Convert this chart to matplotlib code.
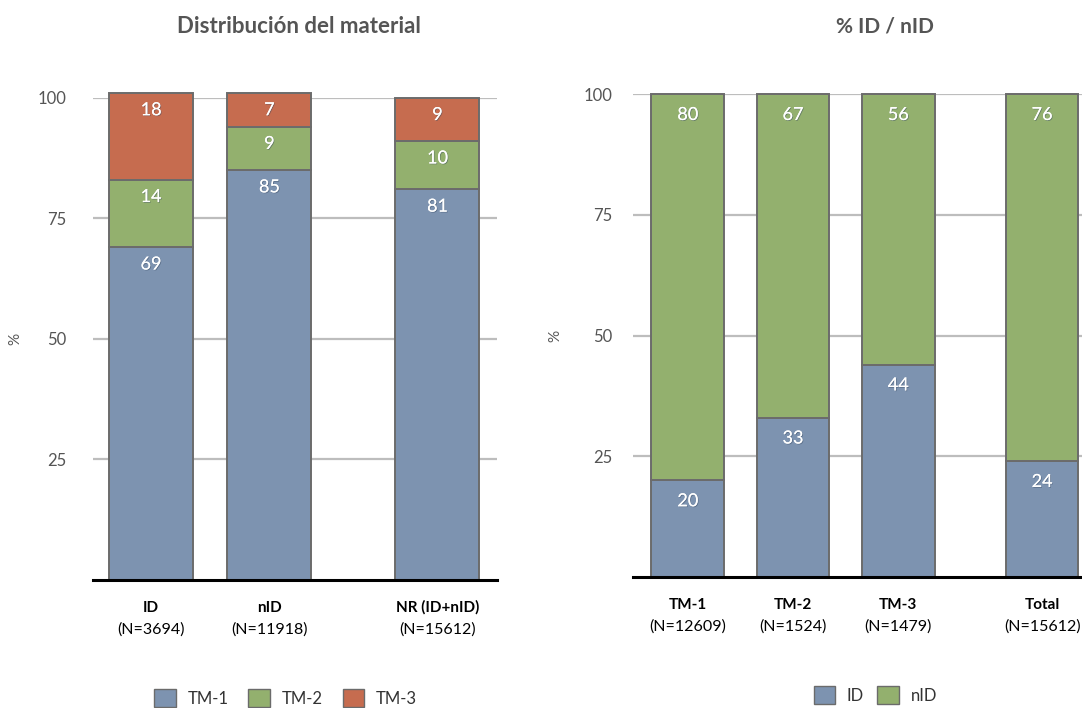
import matplotlib
matplotlib.use("Agg")
import matplotlib.pyplot as plt
import matplotlib.patheffects as pe
from matplotlib.patches import Patch

plt.rcParams['font.family'] = ['Lato', 'DejaVu Sans']

# left chart: material distribution by group (%)
groups = ["ID", "nID", "NR (ID+nID)"]
groups_n = ["(N=3694)", "(N=11918)", "(N=15612)"]
tm1 = [69, 85, 81]
tm2 = [14, 9, 10]
tm3 = [18, 7, 9]

# right chart: % ID / nID by TM type
types = ["TM-1", "TM-2", "TM-3", "Total"]
types_n = ["(N=12609)", "(N=1524)", "(N=1479)", "(N=15612)"]
pct_id = [20, 33, 44, 24]
pct_nid = [80, 67, 56, 76]

BLUE = "#7D93B0"
GREEN = "#93B06E"
RED = "#C66C4F"
EDGE = "#6B6B6B"
GREY_TXT = "#555555"

shadow = [pe.withSimplePatchShadow(offset=(0.6, -0.6), shadow_rgbFace="#34465e", alpha=0.45),
          pe.Normal()]


def style_axes(ax, xlim, pad):
    ax.set_ylim(0, 100)
    ax.set_xlim(*xlim)
    ax.set_yticks([25, 50, 75, 100])
    ax.yaxis.grid(True, color="#BDBDBD", linewidth=1.6)
    ax.set_axisbelow(True)
    for side in ("top", "right", "left"):
        ax.spines[side].set_visible(False)
    ax.spines["bottom"].set_color("black")
    ax.spines["bottom"].set_linewidth(2.2)
    ax.spines["bottom"].set_zorder(5)
    ax.tick_params(axis="y", length=0, pad=pad, labelsize=12, labelcolor=GREY_TXT)
    ax.set_xticks([])
    ax.set_ylabel("%", color=GREY_TXT, fontsize=11)


def stack(ax, x, values, bottoms, color, width, offset):
    bars = ax.bar(x, values, width, bottom=bottoms, color=color,
                  edgecolor=EDGE, linewidth=1.4, clip_on=False, zorder=3)
    for b, v in zip(bars, values):
        top = b.get_y() + b.get_height()
        t = ax.annotate(str(v), (b.get_x() + b.get_width() / 2, top),
                        xytext=(0, -offset), textcoords="offset points",
                        ha="center", va="center", color="white", fontsize=13,
                        zorder=6, annotation_clip=False)
        t.set_path_effects(shadow)


def category_labels(ax, x, names, counts):
    for xi, name, n in zip(x, names, counts):
        ax.annotate(name, (xi, 0), xytext=(0, -20), textcoords="offset points",
                    ha="center", va="center", fontweight="bold", fontsize=11, color="black")
        ax.annotate(n, (xi, 0), xytext=(0, -36), textcoords="offset points",
                    ha="center", va="center", fontsize=11.5, color="black")


fig = plt.figure(figsize=(10.82, 7.08), dpi=100)

# --- left chart ---
ax1 = fig.add_axes([0.086, 0.181, 0.373, 0.681])
x1 = [0, 1, 2.42]
w1 = 0.71
style_axes(ax1, (-0.49, 2.92), 19)
ax1.yaxis.set_label_coords(-0.175, 0.5)
stack(ax1, x1, tm1, [0, 0, 0], BLUE, w1, 12.5)
b2 = tm1
stack(ax1, x1, tm2, b2, GREEN, w1, 12.5)
b3 = [a + b for a, b in zip(tm1, tm2)]
stack(ax1, x1, tm3, b3, RED, w1, 12.5)
category_labels(ax1, x1, groups, groups_n)

fig.text(0.276, 0.962, "Distribución del material", ha="center", va="center",
         fontsize=16, fontweight="bold", color=GREY_TXT)
fig.legend(handles=[Patch(facecolor=BLUE, edgecolor=EDGE, label="TM-1"),
                    Patch(facecolor=GREEN, edgecolor=EDGE, label="TM-2"),
                    Patch(facecolor=RED, edgecolor=EDGE, label="TM-3")],
           loc="center", bbox_to_anchor=(0.264, 0.014), ncol=3, frameon=False,
           fontsize=12, handlelength=1.3, handleheight=1.3, columnspacing=1.2,
           handletextpad=0.7, labelcolor="#333333")

# --- right chart ---
ax2 = fig.add_axes([0.585, 0.185, 0.4224, 0.682])
x2 = [0, 1, 2, 3.365]
w2 = 0.69
style_axes(ax2, (-0.52, 3.82), 15)
ax2.yaxis.set_label_coords(-0.155, 0.5)
stack(ax2, x2, pct_id, [0, 0, 0, 0], BLUE, w2, 15)
stack(ax2, x2, pct_nid, pct_id, GREEN, w2, 15)
category_labels(ax2, x2, types, types_n)

fig.text(0.818, 0.962, "% ID / nID", ha="center", va="center",
         fontsize=15, fontweight="bold", color=GREY_TXT)
fig.legend(handles=[Patch(facecolor=BLUE, edgecolor=EDGE, label="ID"),
                    Patch(facecolor=GREEN, edgecolor=EDGE, label="nID")],
           loc="center", bbox_to_anchor=(0.809, 0.018), ncol=2, frameon=False,
           fontsize=12, handlelength=1.3, handleheight=1.3, columnspacing=0.8,
           handletextpad=0.7, labelcolor="#333333")

fig.savefig("out.png", dpi=100)
